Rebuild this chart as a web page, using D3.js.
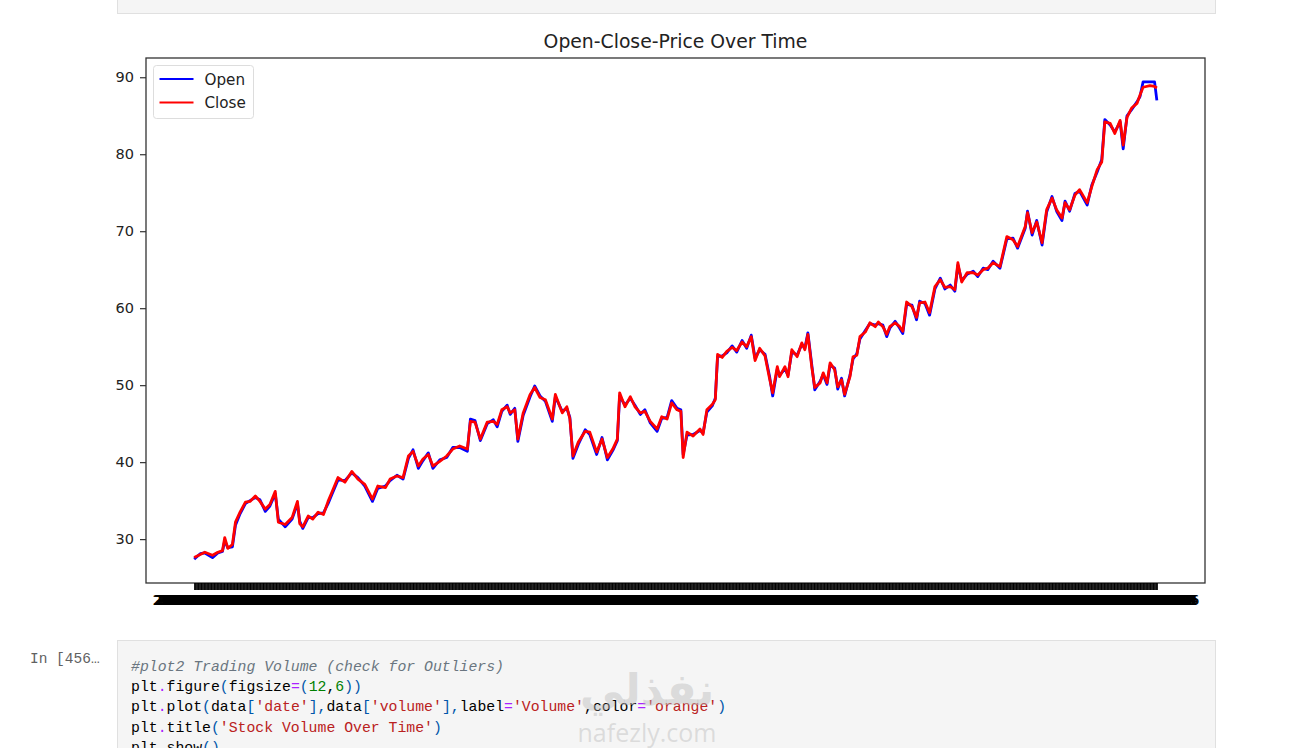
<!DOCTYPE html>
<html>
<head>
<meta charset="utf-8">
<script src="https://cdn.jsdelivr.net/npm/d3@7"></script>
<style>
  body { margin: 0; background: #fff; width: 1291px; height: 748px; overflow: hidden; }
  svg { display: block; }
</style>
</head>
<body>
<svg id="page" width="1291" height="748"></svg>
<script>
// sampled trading-day index (0 = first row of the dataframe)
const sampleDay = [0, 8, 14, 24, 31, 37, 40, 44, 50, 54, 60, 67, 73, 80, 86, 93, 99, 106, 110, 119,
  128, 135, 138, 142, 149, 155, 162, 169, 175, 180, 188, 197, 206, 214, 223, 233, 240, 250, 256, 265,
  273, 280, 286, 293, 299, 306, 312, 321, 330, 338, 347, 357, 361, 367, 374, 383, 391, 396, 402, 409,
  413, 419, 423, 430, 439, 445, 452, 459, 468, 472, 481, 487, 491, 495, 502, 511, 517, 526, 533, 540,
  547, 553, 556, 563, 570, 576, 583, 589, 596, 605, 611, 618, 624, 631, 636, 639, 644, 652, 661, 665,
  670, 677, 681, 684, 690, 696, 703, 709, 716, 722, 728, 733, 739, 746, 752, 756, 762, 765, 772, 776,
  781, 788, 794, 798, 802, 807, 811, 818, 822, 827, 831, 837, 841, 846, 850, 857, 861, 866, 870, 877,
  883, 890, 894, 900, 905, 909, 916, 922, 926, 931, 938, 944, 948, 955, 961, 968, 975, 981, 988, 994,
  998, 1003, 1010, 1018, 1024, 1031, 1037, 1044, 1053, 1062, 1070, 1076, 1086, 1089, 1095, 1101, 1108, 1114, 1121, 1127,
  1134, 1138, 1144, 1151, 1157, 1167, 1173, 1180, 1186, 1190, 1197, 1203, 1210, 1214, 1219, 1225, 1232, 1236, 1240, 1249,
  1255, 1258];

const closePrice = [27.6, 28.0, 28.3, 27.9, 28.3, 28.5, 30.2, 28.8, 29.3, 32.2, 33.5, 34.8, 34.9, 35.6, 34.9, 33.9, 34.5, 36.2, 32.2, 31.9,
  32.8, 34.9, 32.0, 31.6, 33.0, 32.6, 33.5, 33.2, 34.9, 36.1, 38.0, 37.4, 38.8, 37.8, 37.1, 35.2, 36.9, 36.7, 37.8, 38.2,
  38.0, 40.8, 41.4, 39.5, 40.4, 41.0, 39.5, 40.1, 40.8, 41.7, 42.1, 41.7, 45.3, 45.2, 43.0, 45.2, 45.3, 44.9, 46.8, 47.2,
  46.4, 46.8, 43.0, 46.4, 48.8, 49.7, 48.4, 48.1, 45.6, 48.8, 46.4, 47.2, 45.6, 40.8, 42.6, 44.0, 43.9, 41.3, 43.0, 40.6,
  41.7, 43.0, 49.0, 47.2, 48.5, 47.2, 46.4, 46.6, 45.3, 44.3, 45.9, 45.6, 47.7, 46.8, 46.6, 40.6, 43.9, 43.4, 44.3, 43.6,
  46.8, 47.5, 48.1, 54.0, 53.6, 54.4, 54.9, 54.5, 55.6, 55.0, 56.3, 53.2, 54.8, 53.8, 50.8, 49.0, 52.4, 51.1, 52.4, 51.1,
  54.6, 53.7, 55.5, 54.6, 56.6, 52.4, 49.7, 50.3, 51.6, 50.3, 52.9, 52.0, 49.8, 50.7, 48.8, 51.1, 53.7, 53.9, 56.3, 56.9,
  58.1, 57.6, 58.2, 57.6, 56.6, 57.6, 58.1, 57.6, 57.0, 60.8, 60.2, 58.8, 60.7, 60.8, 59.4, 62.8, 63.7, 62.7, 62.8, 62.4,
  65.9, 63.4, 64.6, 64.6, 64.3, 65.0, 65.2, 65.9, 65.4, 69.3, 68.9, 68.0, 70.6, 72.4, 69.8, 71.2, 68.5, 72.8, 74.3, 72.8,
  71.7, 73.7, 72.8, 74.7, 75.4, 73.7, 75.8, 78.0, 79.0, 84.2, 84.0, 82.7, 84.4, 81.2, 84.8, 86.0, 86.6, 87.7, 88.7, 88.9,
  88.8, 88.6];

const openPrice = [27.4, 28.1, 28.2, 27.6, 28.2, 28.4, 29.8, 28.9, 29.0, 31.8, 33.3, 34.6, 35.0, 35.4, 35.1, 33.6, 34.3, 35.9, 32.6, 31.6,
  32.6, 34.6, 32.3, 31.4, 32.8, 32.8, 33.3, 33.4, 34.6, 35.8, 37.7, 37.6, 38.6, 38.0, 36.9, 34.9, 36.6, 36.9, 37.6, 38.3,
  37.8, 40.5, 41.6, 39.2, 40.2, 41.2, 39.2, 40.3, 40.6, 41.9, 41.9, 41.4, 45.6, 45.4, 42.8, 45.0, 45.5, 44.6, 46.6, 47.4,
  46.2, 47.0, 42.7, 46.1, 48.5, 49.9, 48.6, 47.9, 45.3, 48.5, 46.6, 47.0, 45.8, 40.5, 42.3, 44.2, 43.6, 41.0, 43.2, 40.3,
  41.5, 42.8, 48.6, 47.4, 48.3, 47.4, 46.2, 46.8, 45.1, 44.0, 45.7, 45.8, 48.0, 47.0, 46.8, 41.0, 43.5, 43.6, 44.1, 43.8,
  46.5, 47.3, 48.3, 53.7, 53.8, 54.2, 55.1, 54.3, 55.8, 54.8, 56.5, 53.5, 54.6, 54.0, 51.1, 48.6, 52.1, 51.3, 52.1, 51.3,
  54.3, 53.9, 55.3, 54.8, 56.8, 52.7, 49.4, 50.5, 51.4, 50.1, 52.6, 52.2, 49.5, 50.9, 48.6, 51.3, 53.4, 54.1, 56.0, 57.1,
  58.0, 57.8, 58.0, 57.8, 56.3, 57.4, 58.3, 57.4, 56.7, 60.5, 60.4, 58.5, 60.9, 60.6, 59.1, 62.5, 63.9, 62.5, 63.0, 62.2,
  65.6, 63.6, 64.4, 64.8, 64.1, 65.2, 65.0, 66.1, 65.2, 69.0, 69.1, 67.8, 70.4, 72.6, 69.5, 71.4, 68.2, 72.5, 74.5, 72.6,
  71.4, 73.9, 72.6, 74.9, 75.2, 73.4, 76.0, 77.7, 79.3, 84.5, 83.8, 82.9, 84.2, 80.7, 85.0, 85.8, 86.8, 87.5, 89.4, 89.4,
  89.4, 87.0];

const yTickValues = [30, 40, 50, 60, 70, 80, 90];

// every trading day in the dataframe is a categorical x tick (labels overlap into a black band)
const firstDate = new Date(2013, 1, 8);
const dateLabels = [];
for (let d = new Date(firstDate); dateLabels.length < 1259; d.setDate(d.getDate() + 1)) {
  const wd = d.getDay();
  if (wd !== 0 && wd !== 6) dateLabels.push(d3.timeFormat('%Y-%m-%d')(d));
}

const codeLines = [
  [['#plot2 Trading Volume (check for Outliers)', 'cm']],
  [['plt', 'n'], ['.', 'op'], ['figure', 'n'], ['(', 'br'], ['figsize', 'n'], ['=', 'op'], ['(', 'br'], ['12', 'num'], [',', 'n'], ['6', 'num'], ['))', 'br']],
  [['plt', 'n'], ['.', 'op'], ['plot', 'n'], ['(', 'br'], ['data', 'n'], ['[', 'br'], ["'date'", 's'], ['],', 'br'], ['data', 'n'], ['[', 'br'], ["'volume'", 's'], ['],', 'br'], ['label', 'n'], ['=', 'op'], ["'Volume'", 's'], [',', 'n'], ['color', 'n'], ['=', 'op'], ["'orange'", 's'], [')', 'br']],
  [['plt', 'n'], ['.', 'op'], ['title', 'n'], ['(', 'br'], ["'Stock Volume Over Time'", 's'], [')', 'br']],
  [['plt', 'n'], ['.', 'op'], ['show', 'n'], ['()', 'br']]
];

const svg = d3.select('#page');
const FONT = 'DejaVu Sans, sans-serif';
const MONO = 'Liberation Mono, DejaVu Sans Mono, monospace';

// notebook chrome: previous cell bottom
svg.append('rect').attr('x', 117.5).attr('y', -5).attr('width', 1098).attr('height', 18.5)
  .attr('fill', '#f5f5f5').attr('stroke', '#e0e0e0');

// ---- chart ----
const plot = { left: 146, top: 58, width: 1059, height: 525 };

const n = dateLabels.length - 1;
const x = d3.scaleLinear()
  .domain([-0.05 * n, 1.05 * n])
  .range([plot.left, plot.left + plot.width]);

const yMin = d3.min([...closePrice, ...openPrice]);
const yMax = d3.max([...closePrice, ...openPrice]);
const pad = (yMax - yMin) * 0.05;
const y = d3.scaleLinear()
  .domain([yMin - pad, yMax + pad])
  .range([plot.top + plot.height, plot.top]);

const g = svg.append('g');

const line = d3.line()
  .x((d, i) => x(sampleDay[i]))
  .y(d => y(d));

g.append('path').datum(openPrice)
  .attr('d', line).attr('fill', 'none').attr('stroke', '#0000ff')
  .attr('stroke-width', 2.8).attr('stroke-linejoin', 'round');
g.append('path').datum(closePrice)
  .attr('d', line).attr('fill', 'none').attr('stroke', '#ff0000')
  .attr('stroke-width', 2.8).attr('stroke-linejoin', 'round');

// frame
g.append('rect')
  .attr('x', plot.left).attr('y', plot.top)
  .attr('width', plot.width).attr('height', plot.height)
  .attr('fill', 'none').attr('stroke', '#333').attr('stroke-width', 1.3);

// y axis
const yAxis = g.append('g')
  .attr('transform', `translate(${plot.left},0)`)
  .call(d3.axisLeft(y).tickValues(yTickValues).tickSize(6).tickPadding(6));
yAxis.select('.domain').remove();
yAxis.selectAll('line').attr('stroke', '#333').attr('stroke-width', 1.2);
yAxis.selectAll('text').attr('font-family', FONT).attr('font-size', 14.5).attr('fill', '#222');

// x axis: one tick per date
const xAxis = g.append('g')
  .attr('transform', `translate(0,${plot.top + plot.height})`)
  .call(d3.axisBottom(x)
    .tickValues(d3.range(dateLabels.length))
    .tickFormat(i => dateLabels[i])
    .tickSize(7).tickPadding(5));
xAxis.select('.domain').remove();
xAxis.selectAll('line').attr('stroke', '#000').attr('stroke-width', 1);
xAxis.selectAll('text').attr('font-family', FONT).attr('font-size', 14.5).attr('fill', '#000');

// title
svg.append('text')
  .attr('x', plot.left + plot.width / 2).attr('y', 48)
  .attr('text-anchor', 'middle')
  .attr('font-family', FONT).attr('font-size', 18.8).attr('fill', '#222')
  .text('Open-Close-Price Over Time');

// legend
const leg = svg.append('g').attr('transform', 'translate(153.5,65.5)');
leg.append('rect').attr('width', 100).attr('height', 53).attr('rx', 3)
  .attr('fill', '#fff').attr('fill-opacity', 0.8).attr('stroke', '#ddd');
[['Open', '#0000ff'], ['Close', '#ff0000']].forEach(([name, col], i) => {
  const cy = 13.5 + i * 23.5;
  leg.append('line').attr('x1', 6).attr('x2', 40).attr('y1', cy).attr('y2', cy)
    .attr('stroke', col).attr('stroke-width', 2);
  leg.append('text').attr('x', 51).attr('y', cy + 5.5)
    .attr('font-family', FONT).attr('font-size', 15.2).attr('fill', '#222').text(name);
});

// ---- next notebook cell ----
svg.append('text').attr('x', 30).attr('y', 663)
  .attr('font-family', MONO).attr('font-size', 14.5).attr('fill', '#616161')
  .text('In [456…');
svg.append('rect').attr('x', 117.5).attr('y', 640.5).attr('width', 1098).attr('height', 120)
  .attr('fill', '#f5f5f5').attr('stroke', '#e0e0e0');

const tokColor = { n: '#000', op: '#aa22ff', br: '#0055aa', num: '#008000', s: '#ba2121', cm: '#6a7580' };
codeLines.forEach((toks, li) => {
  const t = svg.append('text').attr('x', 131).attr('y', 671 + li * 20.2)
    .attr('font-family', MONO).attr('font-size', 14.8).attr('xml:space', 'preserve');
  toks.forEach(([s, k]) => {
    t.append('tspan').attr('fill', tokColor[k])
      .attr('font-style', k === 'cm' ? 'italic' : null).text(s);
  });
});

// watermark
svg.append('text').attr('x', 647).attr('y', 705).attr('text-anchor', 'middle')
  .attr('font-family', 'DejaVu Sans, sans-serif').attr('font-weight', 'bold').attr('font-size', 44)
  .attr('fill', '#bbb').attr('fill-opacity', 0.45).attr('direction', 'rtl').text('نفذلي');
svg.append('text').attr('x', 647).attr('y', 742).attr('text-anchor', 'middle')
  .attr('font-family', 'Open Sans, sans-serif').attr('font-size', 25)
  .attr('fill', '#bbb').attr('fill-opacity', 0.45).text('nafezly.com');
</script>
</body>
</html>
